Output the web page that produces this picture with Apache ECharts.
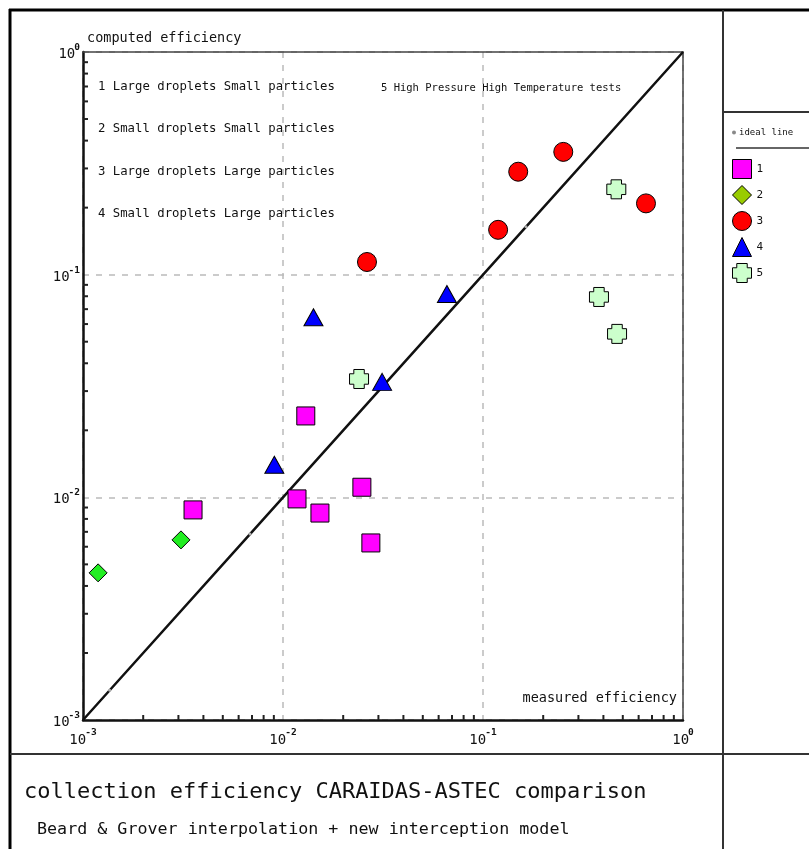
<!DOCTYPE html>
<html>
<head>
<meta charset="utf-8">
<script src="https://cdn.jsdelivr.net/npm/echarts@6/dist/echarts.min.js"></script>
<style>
html,body{margin:0;padding:0;background:#fff;}
#chart{width:809px;height:849px;}
</style>
</head>
<body>
<div id="chart"></div>
<script>
// ---- data (measured efficiency, computed efficiency) ----
const series1 = [[0.00355, 0.00878], [0.0130, 0.0232], [0.01175, 0.00984], [0.0153, 0.0085], [0.0248, 0.0111], [0.0275, 0.00624]];
const series2 = [[0.00119, 0.00458], [0.00309, 0.00644]];
const series3 = [[0.0263, 0.114], [0.119, 0.159], [0.150, 0.290], [0.252, 0.356], [0.653, 0.209]];
const series4 = [[0.00905, 0.0140], [0.0142, 0.0644], [0.0313, 0.0330], [0.066, 0.0819]];
const series5 = [[0.0240, 0.0340], [0.464, 0.2417], [0.380, 0.0794], [0.468, 0.0542]];
const idealLine = [[0.001, 0.001], [0.00136, 0.00136], [0.00684, 0.00684], [0.164, 0.164], [1, 1]];
const seriesNames = ['1', '2', '3', '4', '5'];
const decadeStarts = [0.001, 0.01, 0.1];
const minorMultipliers = [2, 3, 4, 5, 6, 7, 8, 9];
const annotations = ['1 Large droplets Small particles', '2 Small droplets Small particles', '3 Large droplets Large particles', '4 Small droplets Large particles'];
const annotation5 = '5 High Pressure High Temperature tests';
const titleText = 'collection efficiency CARAIDAS-ASTEC comparison';
const subtitleText = 'Beard & Grover interpolation + new interception model';
const xAxisName = 'measured efficiency';
const yAxisName = 'computed efficiency';

const minorTicks = [];
decadeStarts.forEach(d => minorMultipliers.forEach(m => minorTicks.push(+(d * m).toPrecision(3))));

const MONO = "'DejaVu Sans Mono', monospace";
const crossPath = 'path://M4.5,0 H15.5 V4.5 H20 V15.5 H15.5 V20 H4.5 V15.5 H0 V4.5 H4.5 Z';

const chart = echarts.init(document.getElementById('chart'));

function expLabel(v) {
  const e = Math.round(Math.log10(v));
  return '{b|10}{e|' + e + '}';
}
const labelRich = {
  b: {fontFamily: MONO, fontSize: 14, color: '#111', lineHeight: 19, verticalAlign: 'bottom'},
  e: {fontFamily: MONO, fontSize: 9.5, fontWeight: 'bold', color: '#111', verticalAlign: 'top', padding: [0, 0, 0, -1]}
};

function tickRenderer(isX) {
  return function (params, api) {
    const p = api.coord([api.value(0), api.value(1)]);
    return {
      type: 'line',
      shape: isX ? {x1: p[0], y1: p[1], x2: p[0], y2: p[1] - 5} : {x1: p[0], y1: p[1], x2: p[0] + 5, y2: p[1]},
      style: {stroke: '#222', lineWidth: 2}
    };
  };
}

const markerStyle = (color) => ({color: color, borderColor: '#000', borderWidth: 1, opacity: 1});

const graphics = [
  // frame
  {type: 'line', shape: {x1: 9, y1: 10, x2: 809, y2: 10}, style: {stroke: '#000', lineWidth: 3}},
  {type: 'line', shape: {x1: 10, y1: 9, x2: 10, y2: 849}, style: {stroke: '#000', lineWidth: 3}},
  {type: 'line', shape: {x1: 723, y1: 10, x2: 723, y2: 849}, style: {stroke: '#333', lineWidth: 2}},
  {type: 'line', shape: {x1: 10, y1: 754, x2: 809, y2: 754}, style: {stroke: '#333', lineWidth: 2}},
  {type: 'line', shape: {x1: 723, y1: 112, x2: 809, y2: 112}, style: {stroke: '#333', lineWidth: 2}},
  {type: 'line', shape: {x1: 736, y1: 148, x2: 809, y2: 148}, style: {stroke: '#333', lineWidth: 1.5}},
  // axis names
  {type: 'text', left: 87, top: 31, style: {text: yAxisName, font: '13.5px ' + MONO, fill: '#111'}},
  {type: 'text', right: 809 - 677, top: 691, style: {text: xAxisName, font: '13.5px ' + MONO, fill: '#111'}},
  {type: 'text', left: 381, top: 83, style: {text: annotation5, font: '10.5px ' + MONO, fill: '#111'}},
  // titles
  {type: 'text', left: 24, top: 781, style: {text: titleText, font: '22px ' + MONO, fill: '#111'}},
  {type: 'text', left: 37, top: 821, style: {text: subtitleText, font: '16.7px ' + MONO, fill: '#111'}}
];
annotations.forEach((t, i) => {
  graphics.push({type: 'text', left: 98, top: 81 + i * 42.2, style: {text: t, font: '12.3px ' + MONO, fill: '#111'}});
});

const axisCommon = {type: 'log', logBase: 10, min: 0.001, max: 1};
const frameAxis = {
  axisLine: {show: true, onZero: false, lineStyle: {color: '#444', width: 1.5}},
  axisTick: {show: false}, axisLabel: {show: false}, splitLine: {show: false}
};

const option = {
  backgroundColor: '#fff',
  animation: false,
  grid: {left: 83, top: 52, width: 600, height: 668},
  xAxis: [
    Object.assign({
      position: 'bottom',
      axisLine: {show: true, onZero: false, lineStyle: {color: '#111', width: 2.5}},
      axisTick: {show: false},
      splitLine: {show: true, lineStyle: {color: '#bbb', width: 1.5, type: [6, 7]}},
      axisLabel: {formatter: expLabel, rich: labelRich, margin: 8}
    }, axisCommon),
    Object.assign({position: 'top'}, axisCommon, frameAxis)
  ],
  yAxis: [
    Object.assign({
      position: 'left',
      axisLine: {show: true, onZero: false, lineStyle: {color: '#111', width: 2.5}},
      axisTick: {show: false},
      splitLine: {show: true, lineStyle: {color: '#bbb', width: 1.5, type: [6, 7]}},
      axisLabel: {formatter: expLabel, rich: labelRich, margin: 3}
    }, axisCommon),
    Object.assign({position: 'right'}, axisCommon, frameAxis)
  ],
  legend: [
    {
      data: [{name: 'ideal line', icon: 'circle', itemStyle: {color: '#888', borderWidth: 0}}],
      left: 727, top: 123, orient: 'vertical', itemWidth: 4, itemHeight: 4, itemGap: 4,
      textStyle: {fontFamily: MONO, fontSize: 9, color: '#111', padding: [0, 0, 0, -2]},
      selectedMode: false
    },
    {
      data: [
        {name: '1', icon: 'rect', itemStyle: markerStyle('#ff00ff')},
        {name: '2', icon: 'diamond', itemStyle: markerStyle('#99cc00')},
        {name: '3', icon: 'circle', itemStyle: markerStyle('#ff0000')},
        {name: '4', icon: 'triangle', itemStyle: markerStyle('#0000ff')},
        {name: '5', icon: crossPath, itemStyle: markerStyle('#ccffcc')}
      ],
      left: 727, top: 154, orient: 'vertical', itemWidth: 19, itemHeight: 19, itemGap: 6,
      textStyle: {fontFamily: MONO, fontSize: 11, color: '#111'},
      selectedMode: false
    }
  ],
  graphic: graphics,
  series: [
    {
      name: 'ideal line', type: 'line', data: idealLine.map((p, i) => ({value: p, symbol: (i === 0 || i === idealLine.length - 1) ? 'none' : 'circle'})),
      symbolSize: 3, showSymbol: true, lineStyle: {color: '#111', width: 2.5}, itemStyle: {color: '#aaa', borderWidth: 0}, z: 3
    },
    {type: 'custom', name: 'xticks', data: minorTicks.map(v => [v, 0.001]), renderItem: tickRenderer(true), encode: {x: 0, y: 1}, silent: true, clip: false, z: 4},
    {type: 'custom', name: 'yticks', data: minorTicks.map(v => [0.001, v]), renderItem: tickRenderer(false), encode: {x: 0, y: 1}, silent: true, clip: false, z: 4},
    {name: seriesNames[0], type: 'scatter', data: series1, symbol: 'rect', symbolSize: 18, itemStyle: markerStyle('#ff00ff'), z: 5},
    {name: seriesNames[1], type: 'scatter', data: series2, symbol: 'diamond', symbolSize: [18, 18], itemStyle: markerStyle('#22ee22'), z: 5},
    {name: seriesNames[2], type: 'scatter', data: series3, symbol: 'circle', symbolSize: 19, itemStyle: markerStyle('#ff0000'), z: 5},
    {name: seriesNames[3], type: 'scatter', data: series4, symbol: 'triangle', symbolSize: [19, 17], itemStyle: markerStyle('#0000ff'), z: 5},
    {name: seriesNames[4], type: 'scatter', data: series5, symbol: crossPath, symbolSize: 19, itemStyle: markerStyle('#ccffcc'), z: 5}
  ]
};
chart.setOption(option);
</script>
</body>
</html>
